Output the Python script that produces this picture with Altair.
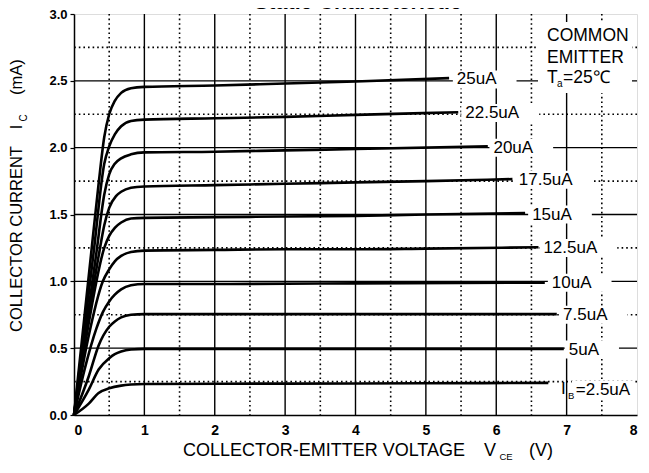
import altair as alt
import pandas as pd

FONT = "Liberation Sans"

# ---- curve data (VCE in V, IC in mA) ----
v_25 = [0, 0.25, 0.35, 0.43, 0.50, 0.58, 0.67, 0.81, 1.0, 2.0, 3.0, 4.0, 5.33]
i_25 = [0, 1.24, 1.73, 2.08, 2.25, 2.35, 2.41, 2.445, 2.455, 2.465, 2.48, 2.495, 2.52]
v_225 = [0, 0.28, 0.43, 0.50, 0.58, 0.67, 0.81, 1.0, 2.0, 3.0, 4.0, 5.46]
i_225 = [0, 1.22, 1.88, 2.01, 2.10, 2.16, 2.20, 2.21, 2.22, 2.23, 2.245, 2.265]
v_20 = [0, 0.32, 0.43, 0.50, 0.58, 0.67, 0.81, 1.0, 2.0, 3.0, 4.0, 5.88]
i_20 = [0, 1.22, 1.65, 1.80, 1.88, 1.92, 1.95, 1.965, 1.97, 1.98, 1.99, 2.01]
v_175 = [0, 0.36, 0.43, 0.50, 0.60, 0.67, 0.81, 1.0, 2.0, 3.0, 4.0, 5.0, 6.23]
i_175 = [0, 1.22, 1.42, 1.55, 1.64, 1.67, 1.70, 1.71, 1.72, 1.73, 1.74, 1.75, 1.765]
v_15 = [0, 0.20, 0.43, 0.50, 0.58, 0.67, 0.81, 1.0, 2.0, 3.0, 4.0, 5.0, 6.41]
i_15 = [0, 0.66, 1.25, 1.34, 1.40, 1.44, 1.47, 1.475, 1.48, 1.485, 1.49, 1.50, 1.51]
v_125 = [0, 0.20, 0.41, 0.50, 0.58, 0.67, 0.81, 1.0, 2.0, 3.0, 4.0, 5.0, 6.60]
i_125 = [0, 0.57, 1.00, 1.09, 1.15, 1.19, 1.22, 1.23, 1.235, 1.24, 1.24, 1.245, 1.255]
v_10 = [0, 0.15, 0.32, 0.41, 0.50, 0.58, 0.67, 0.81, 1.0, 2.0, 4.0, 6.69]
i_10 = [0, 0.34, 0.65, 0.77, 0.85, 0.90, 0.94, 0.97, 0.98, 0.98, 0.985, 0.99]
v_75 = [0, 0.21, 0.35, 0.50, 0.58, 0.67, 0.81, 1.0, 3.0, 5.0, 6.86]
i_75 = [0, 0.29, 0.52, 0.66, 0.70, 0.73, 0.75, 0.755, 0.755, 0.755, 0.755]
v_5 = [0, 0.21, 0.35, 0.50, 0.58, 0.67, 0.81, 1.0, 3.0, 5.0, 6.96]
i_5 = [0, 0.19, 0.34, 0.425, 0.455, 0.475, 0.49, 0.495, 0.495, 0.495, 0.495]
v_25s = [0, 0.21, 0.35, 0.50, 0.67, 0.81, 1.0, 3.0, 5.0, 6.74]
i_25s = [0, 0.085, 0.165, 0.20, 0.22, 0.228, 0.232, 0.235, 0.237, 0.24]

curve_names = ["25uA", "22.5uA", "20uA", "17.5uA", "15uA", "12.5uA", "10uA", "7.5uA", "5uA", "2.5uA"]
curve_v = [v_25, v_225, v_20, v_175, v_15, v_125, v_10, v_75, v_5, v_25s]
curve_i = [i_25, i_225, i_20, i_175, i_15, i_125, i_10, i_75, i_5, i_25s]

# ---- curve labels ----
label_text = ["25uA", "22.5uA", "20uA", "17.5uA", "15uA", "12.5uA", "10uA", "7.5uA", "5uA", "=2.5uA"]
label_x = [5.44, 5.56, 5.96, 6.32, 6.51, 6.67, 6.79, 6.95, 7.03, 7.13]
label_y = [2.51, 2.26, 2.00, 1.76, 1.50, 1.25, 0.99, 0.75, 0.49, 0.187]

# ---- grid / ticks ----
grid_x_solid = [1, 2, 3, 4, 5, 6, 7]
grid_y_solid = [0.5, 1.0, 1.5, 2.0, 2.5]
grid_x_dot = [0.5, 1.5, 2.5, 3.5, 4.5, 5.5, 6.5, 7.5]
grid_y_dot = [0.25, 0.75, 1.25, 1.75, 2.25, 2.75]
y_ticks = [0, 0.25, 0.5, 0.75, 1.0, 1.25, 1.5, 1.75, 2.0, 2.25, 2.5, 2.75, 3.0]
x_ticks = [0, 1, 2, 3, 4, 5, 6, 7, 8]

W, H = 563, 401
PAD = {"left": 66, "top": 6, "right": 4, "bottom": 46}

rows = []
for name, vs, ys in zip(curve_names, curve_v, curve_i):
    for v, c in zip(vs, ys):
        rows.append({"curve": name, "vce": v, "ic": c})
curves_df = pd.DataFrame(rows)

EM = {"u": 0.556, "A": 0.667, ".": 0.278, "=": 0.584}
LBL_SIZE = 17
PX_PER_V = W / 8.0
PX_PER_MA = H / 3.0
lab_rows = []
for t, lx, ly in zip(label_text, label_x, label_y):
    w_px = sum(EM.get(ch, 0.556) for ch in t) * LBL_SIZE
    lab_rows.append({"text": t, "x": lx, "y": ly,
                     "bx": lx - 4 / PX_PER_V,
                     "bx2": min(lx + (w_px + 20) / PX_PER_V, 8 - 3 / PX_PER_V),
                     "by": ly - 9 / PX_PER_MA, "by2": ly + 9 / PX_PER_MA})
labels_df = pd.DataFrame(lab_rows)

xs = alt.Scale(domain=[0, 8], nice=False, zero=False)
ys = alt.Scale(domain=[0, 3], nice=False, zero=False)


def rules(vals, field, dotted):
    df = pd.DataFrame({field: vals})
    m = alt.Chart(df).mark_rule(color="black", strokeWidth=1.6 if dotted else 1.4,
                                 strokeDash=[1.6, 3] if dotted else [1, 0])
    if field == "gx":
        return m.encode(x=alt.X("gx:Q", scale=xs))
    return m.encode(y=alt.Y("gy:Q", scale=ys))


grid = alt.layer(
    rules(grid_x_dot, "gx", True),
    rules(grid_y_dot, "gy", True),
    rules(grid_x_solid, "gx", False),
    rules(grid_y_solid, "gy", False),
)

label_bg = alt.Chart(labels_df).mark_rect(color="white").encode(
    x=alt.X("bx:Q", scale=xs), x2="bx2:Q",
    y=alt.Y("by:Q", scale=ys), y2="by2:Q",
)

note_bg = alt.Chart(alt.Data(values=[{}])).mark_rect(color="white").encode(
    x=alt.value(464), x2=alt.value(558), y=alt.value(8), y2=alt.value(79)
)

lines = alt.Chart(curves_df).mark_line(
    color="black", strokeWidth=2.6, interpolate="monotone"
).encode(
    x=alt.X("vce:Q", scale=xs,
            axis=alt.Axis(values=x_ticks, format="d", title=None, grid=False,
                          ticks=False, labelPadding=8, labelFont=FONT,
                          labelFontSize=14, labelFontWeight="bold",
                          labelColor="black", domainColor="black",
                          domainWidth=1.5)),
    y=alt.Y("ic:Q", scale=ys,
            axis=alt.Axis(values=y_ticks, title=None, grid=False,
                          labelExpr="datum.value % 0.5 == 0 ? format(datum.value, '.1f') : ''",
                          tickSize=4, tickColor="black", tickWidth=1.2,
                          labelPadding=3, labelFont=FONT, labelFontSize=13,
                          labelFontWeight="bold", labelColor="black",
                          domainColor="black", domainWidth=1.5)),
    detail="curve:N",
)

label_txt = alt.Chart(labels_df).mark_text(
    font=FONT, fontSize=LBL_SIZE, align="left", baseline="middle", color="black"
).encode(x=alt.X("x:Q", scale=xs), y=alt.Y("y:Q", scale=ys), text="text:N")


def note(txt, x, y, size=17.5, weight="normal", angle=0, align="left", baseline="middle"):
    return alt.Chart(alt.Data(values=[{}])).mark_text(
        text=txt, font=FONT, fontSize=size, fontWeight=weight, angle=angle,
        align=align, baseline=baseline, color="black"
    ).encode(x=alt.value(x), y=alt.value(y))


notes = [
    note("Static Characteristic", 284, -5, size=21.5, weight="bold", align="center", baseline="alphabetic"),
    note("COMMON", 473, 22),
    note("EMITTER", 473, 44),
    note("T", 473, 64),
    note("a", 483, 70, size=10),
    note("=25\u2103", 489, 64),
    note("I", 487, 375, size=17),
    note("B", 494, 382, size=9.5),
    note("COLLECTOR-EMITTER VOLTAGE", 250, 437, size=18, align="center"),
    note("V", 416, 437, size=18, align="center"),
    note("CE", 432, 443, size=9.5, align="center"),
    note("(V)", 467, 437, size=18, align="center"),
    note("COLLECTOR CURRENT", -57, 225, size=16.5, angle=270, align="center"),
    note("I", -57, 113, size=16.5, angle=270, align="center"),
    note("C", -50, 104, size=10, angle=270, align="center"),
    note("(mA)", -57, 63, size=16.5, angle=270, align="center"),
]

chart = alt.layer(grid, label_bg, note_bg, lines, label_txt, *notes).properties(
    width=W, height=H,
    autosize=alt.AutoSizeParams(type="none"),
    padding=PAD,
).configure_view(stroke="black", strokeWidth=1.5).configure(background="white")

chart.save("out.html", embed_options={"renderer": "svg", "actions": False})
